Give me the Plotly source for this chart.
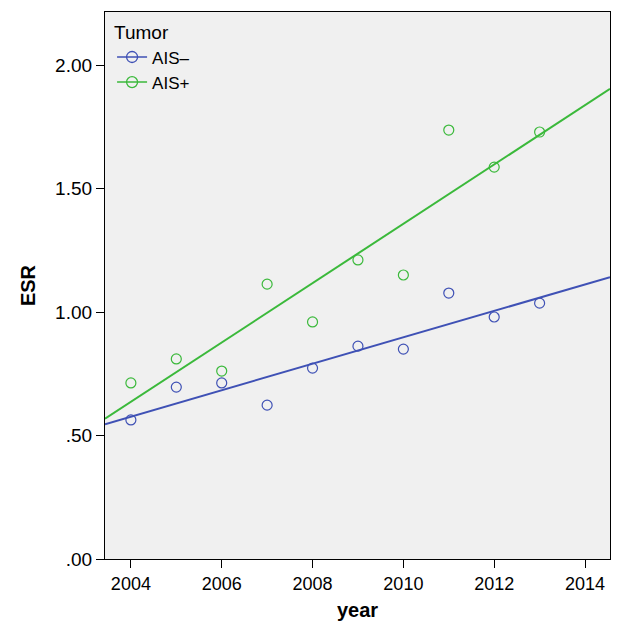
import numpy as np
import plotly.graph_objects as go

years = [2004, 2005, 2006, 2007, 2008, 2009, 2010, 2011, 2012, 2013]
esr_ais_neg = [0.563, 0.696, 0.713, 0.623, 0.773, 0.862, 0.850, 1.077, 0.980, 1.036]
esr_ais_pos = [0.713, 0.810, 0.761, 1.113, 0.960, 1.211, 1.150, 1.737, 1.587, 1.729]
series_names = ["AIS\u2013", "AIS+"]
colors = ["#3F51B5", "#3BB93B"]
y_ticks = [0, 0.5, 1.0, 1.5, 2.0]
y_tick_labels = [".00", ".50", "1.00", "1.50", "2.00"]
x_ticks = [2004, 2006, 2008, 2010, 2012, 2014]

x_range = [2003.43, 2014.55]
y_range = [0, 2.215]

fig = go.Figure()
font = "Liberation Sans, Arial, sans-serif"

for name, vals, col in zip(series_names, [esr_ais_neg, esr_ais_pos], colors):
    slope, intercept = np.polyfit(years, vals, 1)
    xs = np.array(x_range)
    fig.add_trace(go.Scatter(x=xs, y=slope * xs + intercept, mode="lines",
                             line=dict(color=col, width=2), showlegend=False, hoverinfo="skip"))
    fig.add_trace(go.Scatter(x=years, y=vals, mode="markers", showlegend=False,
                             marker=dict(symbol="circle-open", size=10, color=col, line=dict(width=1.2))))

for name, col in zip(series_names, colors):
    fig.add_trace(go.Scatter(x=[None], y=[None], mode="lines+markers", name=name,
                             line=dict(color=col, width=1.5),
                             marker=dict(symbol="circle-open", size=11, color=col, line=dict(width=1.3))))

fig.update_layout(
    width=617, height=627,
    margin=dict(l=105, r=7, t=12, b=68),
    paper_bgcolor="white", plot_bgcolor="#F0F0F0",
    font=dict(family=font, size=18, color="black"),
    legend=dict(title=dict(text="Tumor", font=dict(size=19)), x=0.014, y=0.995,
                xanchor="left", yanchor="top", bgcolor="rgba(0,0,0,0)",
                font=dict(size=17), tracegroupgap=0, itemwidth=30),
    xaxis=dict(range=x_range, tickvals=x_ticks, showgrid=False, zeroline=False,
               showline=True, linecolor="black", linewidth=1.2, mirror=True,
               ticks="outside", ticklen=8, tickcolor="black",
               tickfont=dict(size=18),
               title=dict(text="<b>year</b>", font=dict(size=20), standoff=10)),
    yaxis=dict(range=y_range, tickvals=y_ticks, ticktext=y_tick_labels, showgrid=False,
               zeroline=False, showline=True, linecolor="black", linewidth=1.2, mirror=True,
               ticks="outside", ticklen=8, tickcolor="black",
               tickfont=dict(size=19),
               title=dict(text="<b>ESR</b>", font=dict(size=20), standoff=14)),
)

fig.write_html("out.html", config={"displayModeBar": False},
               post_script="document.body.style.margin='0';document.body.style.overflow='hidden';")
